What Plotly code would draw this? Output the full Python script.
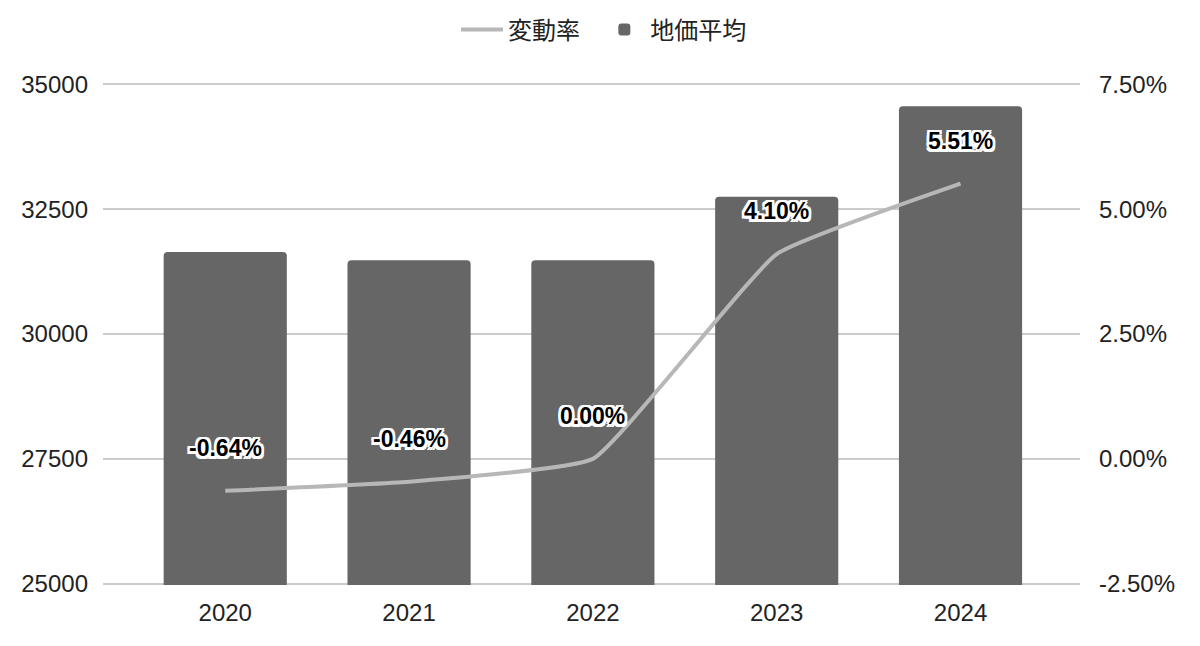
import plotly.graph_objects as go

# values
years = ["2020", "2021", "2022", "2023", "2024"]
land_price = [31640, 31475, 31475, 32750, 34560]   # 地価平均
change_rate = [-0.64, -0.46, 0.00, 4.10, 5.51]      # 変動率 (%)
rate_labels = ["-0.64%", "-0.46%", "0.00%", "4.10%", "5.51%"]

left_ticks = [25000, 27500, 30000, 32500, 35000]
right_ticks = [-2.5, 0, 2.5, 5, 7.5]
right_labels = ["-2.50%", "0.00%", "2.50%", "5.00%", "7.50%"]

font_family = "Liberation Sans, Arial, Noto Sans CJK JP, sans-serif"
text_color = "#222222"

fig = go.Figure()

# line first so it comes first in the legend
# (two no-break spaces after the name widen the gap to the next legend entry)
fig.add_trace(go.Scatter(
    x=years, y=change_rate, name="変動率\u00a0\u00a0", yaxis="y2",
    mode="lines", line=dict(color="#b7b7b7", width=4, shape="spline", smoothing=0.35),
    hoverinfo="skip",
))

fig.add_trace(go.Bar(
    x=years, y=land_price, name="地価平均",
    marker=dict(color="#666666", line=dict(width=0)),
    width=0.67,
))

# white outline around the data labels
w = 2.5
outline = ", ".join(f"{dx}px {dy}px 0 white" for dx, dy in
                    [(w, 0), (-w, 0), (0, w), (0, -w), (w, w), (-w, -w), (w, -w), (-w, w)])

# data labels for the rate line
# (category index as x, a string like "2020" would be read as a position)
for i, (val, lab) in enumerate(zip(change_rate, rate_labels)):
    fig.add_annotation(
        x=i, y=val, xref="x", yref="y2", text="<b>" + lab + "</b>", showarrow=False,
        yshift=43, yanchor="middle",
        font=dict(family=font_family, size=23, color="#000000", shadow=outline),
    )

fig.update_layout(
    width=1192, height=638,
    margin=dict(l=95, r=120, t=75, b=61),
    paper_bgcolor="white", plot_bgcolor="white",
    font=dict(family=font_family, size=24, color=text_color),
    barcornerradius=4,
    showlegend=True,
    legend=dict(
        orientation="h", xref="container", yref="container",
        x=0.5, xanchor="center", y=1 - 22 / 638, yanchor="middle",
        font=dict(size=24, color=text_color), itemwidth=42,
        traceorder="normal",
    ),
    xaxis=dict(
        type="category", range=[-0.665, 4.65],
        showgrid=False, showline=False, ticks="", ticklabelstandoff=11,
        tickfont=dict(size=24, color=text_color),
    ),
    yaxis=dict(
        range=[24975, 35025], tickvals=left_ticks, tickformat="d",
        showgrid=True, gridcolor="#cccccc", gridwidth=2,
        zeroline=False, showline=False, ticks="", ticklabelstandoff=14,
        tickfont=dict(size=24, color=text_color),
    ),
    yaxis2=dict(
        range=[-2.525, 7.525], tickvals=right_ticks, ticktext=right_labels,
        overlaying="y", side="right", showgrid=False, zeroline=False,
        showline=False, ticks="", ticklabelstandoff=18,
        tickfont=dict(size=24, color=text_color),
    ),
)

fig.write_html("out.html")
